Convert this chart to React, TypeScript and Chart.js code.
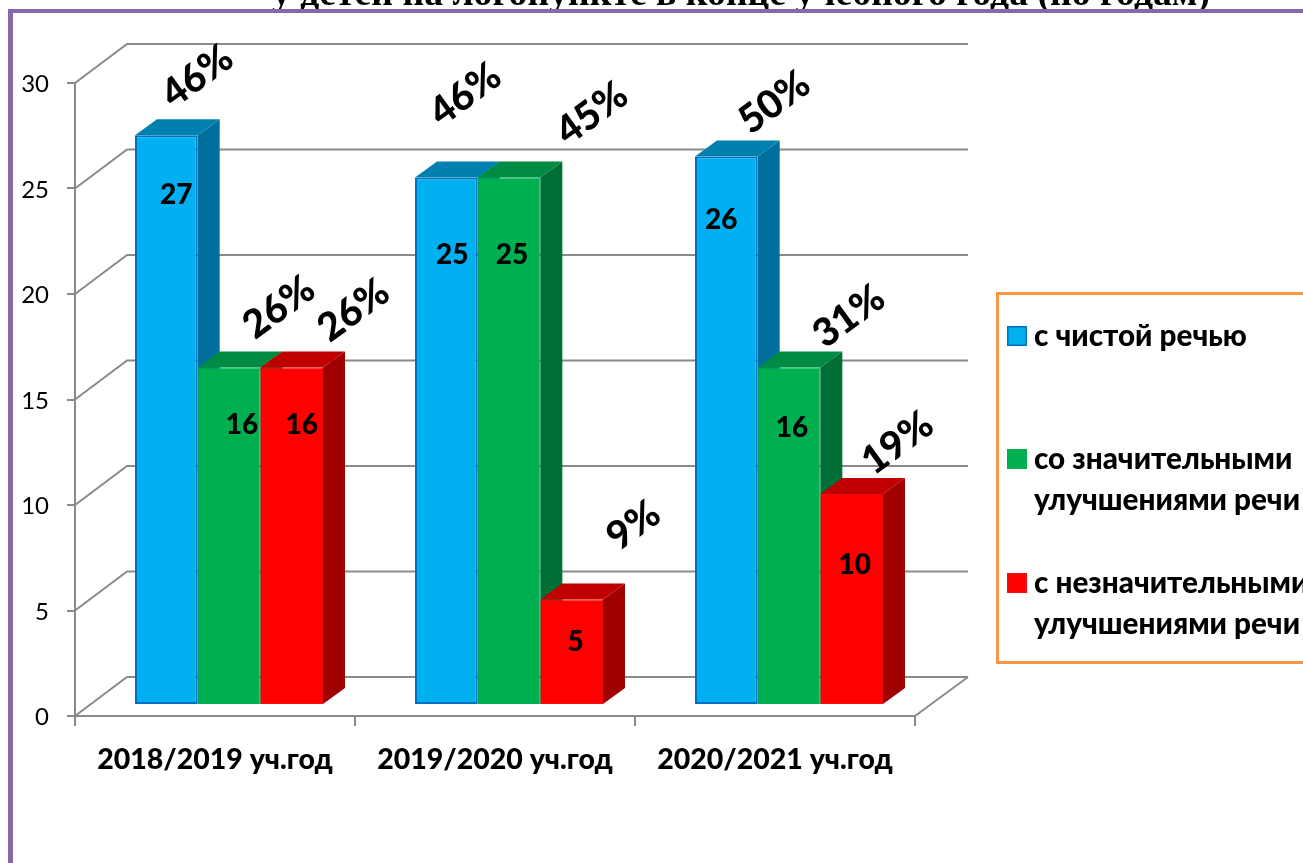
import React, { useEffect, useRef } from "react";
import { Chart, registerables } from "chart.js";

Chart.register(...registerables);

const categories = ["2018/2019 уч.год", "2019/2020 уч.год", "2020/2021 уч.год"];
const cleanSpeech = [27, 25, 26];
const significant = [16, 25, 16];
const minor = [16, 5, 10];
const cleanPct = ["46%", "46%", "50%"];
const significantPct = ["26%", "45%", "31%"];
const minorPct = ["26%", "9%", "19%"];
const seriesNames = ["с чистой речью", "со значительными\nулучшениями речи", "с незначительными\nулучшениями речи"];
const titleText = "у детей на логопункте в конце учебного года (по годам)";

const FONT = "Lato, 'Noto Sans', sans-serif";
const W = 1303, H = 863;
const LEFT = 75, RIGHT = 915, TOP = 83, BOTTOM = 716;
const BAR_SHIFT = { x: 14, y: -11 };
const LABEL_SHIFT = { x: 14, y: -10 };
const BAR_DEPTH = { x: 22, y: -16 };
const WALL = { x: 52, y: -39 };
const GRID = "#8a8a8a";

// label offsets relative to bar centre / bar top: [series][category]
const valueOffset = [
  [[10, 59], [6, 76], [-5, 63]],
  [[13, 57], [3, 76], [3, 60]],
  [[10, 57], [4, 41], [3, 70]],
];
const pctOffset = [
  [[31, -60], [19, -84], [48, -55]],
  [[50, -61], [83, -65], [60, -52]],
  [[62, -58], [62, -75], [46, -52]],
];

const styles = [
  { front: "#00B0F0", border: "#0070C0", top: "#0080AE", side: "#006F9C", bw: 2 },
  { front: "#00B050", border: "#00B050", top: "#018A42", side: "#006F35", bw: 1 },
  { front: "#FF0000", border: "#F01010", top: "#C00000", side: "#A00000", bw: 1 },
];

const scene = {
  id: "scene",
  beforeDraw(chart: any) {
    const { ctx } = chart;
    const y = chart.scales.y;
    ctx.save();
    ctx.fillStyle = "#fff";
    ctx.fillRect(0, 0, W, H);

    // title, clipped by the top of the page
    ctx.fillStyle = "#000";
    ctx.font = "bold 37.7px 'Liberation Serif', serif";
    ctx.textAlign = "left";
    ctx.textBaseline = "alphabetic";
    ctx.fillText(titleText, 272, 5);

    // page frame
    ctx.fillStyle = "#8869A8";
    ctx.fillRect(8, 9, W - 8, 4);
    ctx.fillRect(8, 9, 5, H - 9);

    // back wall and side wall
    ctx.strokeStyle = GRID;
    ctx.lineWidth = 2;
    ctx.beginPath();
    y.ticks.forEach((t: any) => {
      const py = y.getPixelForValue(t.value);
      ctx.moveTo(LEFT, py);
      ctx.lineTo(LEFT + WALL.x, py + WALL.y);
      ctx.lineTo(RIGHT + WALL.x + 1, py + WALL.y);
    });
    ctx.moveTo(RIGHT, BOTTOM);
    ctx.lineTo(RIGHT + WALL.x + 1, BOTTOM + WALL.y);
    ctx.stroke();
    ctx.restore();
  },
  beforeDatasetsDraw(chart: any) {
    const { ctx } = chart;
    ctx.save();
    ctx.translate(BAR_SHIFT.x, BAR_SHIFT.y);
    const n = chart.data.labels.length;
    for (let c = 0; c < n; c++) {
      chart.data.datasets.forEach((_: any, s: number) => {
        const b = chart.getDatasetMeta(s).data[c];
        const x0 = b.x - b.width / 2, x1 = b.x + b.width / 2;
        const st = styles[s];
        ctx.fillStyle = st.side;
        ctx.beginPath();
        ctx.moveTo(x1, b.y);
        ctx.lineTo(x1 + BAR_DEPTH.x, b.y + BAR_DEPTH.y);
        ctx.lineTo(x1 + BAR_DEPTH.x, b.base + BAR_DEPTH.y);
        ctx.lineTo(x1, b.base);
        ctx.closePath();
        ctx.fill();
        ctx.fillStyle = st.top;
        ctx.beginPath();
        ctx.moveTo(x0, b.y);
        ctx.lineTo(x0 + BAR_DEPTH.x, b.y + BAR_DEPTH.y);
        ctx.lineTo(x1 + BAR_DEPTH.x, b.y + BAR_DEPTH.y);
        ctx.lineTo(x1, b.y);
        ctx.closePath();
        ctx.fill();
      });
    }
  },
  afterDatasetsDraw(chart: any) {
    const { ctx } = chart;
    ctx.restore();
    ctx.save();
    ctx.fillStyle = "#000";
    chart.data.datasets.forEach((ds: any, s: number) => {
      chart.getDatasetMeta(s).data.forEach((b: any, c: number) => {
        const bx = b.x + LABEL_SHIFT.x, by = b.y + LABEL_SHIFT.y;
        ctx.font = `900 28px ${FONT}`;
        ctx.textAlign = "center";
        ctx.textBaseline = "middle";
        ctx.fillText(String(ds.data[c]), bx + valueOffset[s][c][0], by + valueOffset[s][c][1]);
        ctx.save();
        ctx.translate(bx + pctOffset[s][c][0], by + pctOffset[s][c][1]);
        ctx.rotate((-36 * Math.PI) / 180);
        ctx.font = `900 39px ${FONT}`;
        ctx.fillText(ds.pct[c], 0, 0);
        ctx.restore();
      });
    });
    ctx.restore();
  },
  afterDraw(chart: any) {
    const { ctx } = chart;
    ctx.save();
    // legend
    ctx.strokeStyle = "#F79646";
    ctx.lineWidth = 3;
    ctx.strokeRect(997.5, 293.5, W + 20 - 997, 369);
    const markY = [326, 449, 573];
    ctx.textAlign = "left";
    ctx.textBaseline = "middle";
    chart.data.datasets.forEach((ds: any, s: number) => {
      const st = styles[s];
      ctx.fillStyle = st.front;
      ctx.fillRect(1007, markY[s], 20, 20);
      ctx.strokeStyle = st.border;
      ctx.lineWidth = 1.5;
      ctx.strokeRect(1007.75, markY[s] + 0.75, 18.5, 18.5);
      ctx.fillStyle = "#000";
      ctx.font = `900 29.7px ${FONT}`;
      ds.label.split("\n").forEach((line: string, i: number) => {
        ctx.fillText(line, 1034, markY[s] + 10 + i * 41);
      });
    });
    ctx.restore();
  },
};

const App = () => {
  const ref = useRef<HTMLCanvasElement>(null);
  useEffect(() => {
    const ds = (i: number, data: number[], pct: string[]) => ({
      label: seriesNames[i],
      data,
      pct,
      backgroundColor: styles[i].front,
      borderColor: styles[i].border,
      borderWidth: styles[i].bw,
      borderSkipped: false,
      clip: false,
      categoryPercentage: 188 / 280,
      barPercentage: 1,
    });
    const chart = new Chart(ref.current!, {
      type: "bar",
      data: {
        labels: categories,
        datasets: [ds(0, cleanSpeech, cleanPct), ds(1, significant, significantPct), ds(2, minor, minorPct)] as any,
      },
      plugins: [scene],
      options: {
        responsive: false,
        animation: false,
        layout: { padding: { left: 0, top: TOP, right: W - RIGHT, bottom: 0 } },
        plugins: { legend: { display: false }, title: { display: false }, tooltip: { enabled: false } },
        scales: {
          x: {
            afterFit: (s: any) => { s.height = H - BOTTOM; },
            border: { display: true, color: GRID, width: 2 },
            grid: { drawOnChartArea: false, drawTicks: true, tickLength: 10, color: GRID, lineWidth: 2 },
            ticks: { color: "#000", padding: 17, maxRotation: 0, font: { family: FONT, size: 28.5, weight: 900 } },
          },
          y: {
            min: 0,
            max: 30,
            afterFit: (s: any) => { s.width = LEFT; },
            border: { display: true, color: GRID, width: 2 },
            grid: { drawOnChartArea: false, drawTicks: true, tickLength: 8, color: GRID, lineWidth: 2 },
            ticks: { color: "#000", stepSize: 5, padding: 18, labelOffset: 1.5, font: { family: FONT, size: 24 } },
          },
        },
      } as any,
    });
    return () => chart.destroy();
  }, []);
  return <canvas ref={ref} width={W} height={H} style={{ position: "fixed", left: 0, top: 0, display: "block" }} />;
};

export default App;
